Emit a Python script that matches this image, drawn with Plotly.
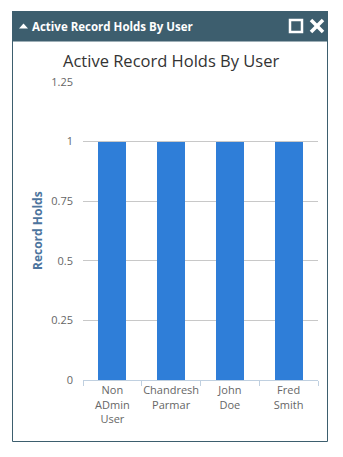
import plotly.graph_objects as go

# Chart data
users = ["Non<br>ADmin<br>User", "Chandresh<br>Parmar", "John<br>Doe", "Fred<br>Smith"]
record_holds = [1, 1, 1, 1]
y_ticks = [0, 0.25, 0.5, 0.75, 1, 1.25]
y_tick_labels = ["0", "0.25", "0.5", "0.75", "1", "1.25"]

W, H = 343, 457
HEADER = "#3d5e6e"


def px(x):
    return x / W


def py(y):
    return 1 - y / H


fig = go.Figure(
    go.Bar(
        x=users,
        y=record_holds,
        marker=dict(color="#2f7ed8", line=dict(width=0)),
        width=0.48,
        hoverinfo="x+y",
    )
)

shapes = [
    # panel body border
    dict(type="rect", xref="paper", yref="paper", x0=px(12.5), x1=px(327.5), y0=py(441.5), y1=py(41),
         line=dict(color=HEADER, width=1), fillcolor="white", layer="below"),
    # header bar
    dict(type="rect", xref="paper", yref="paper", x0=px(12), x1=px(328), y0=py(41), y1=py(11),
         line=dict(width=0), fillcolor=HEADER, layer="below"),
    # collapse caret
    dict(type="path", xref="paper", yref="paper",
         path=f"M {px(19)} {py(28.5)} L {px(28)} {py(28.5)} L {px(23.5)} {py(23.5)} Z",
         fillcolor="white", line=dict(width=0)),
    # maximize box
    dict(type="rect", xref="paper", yref="paper", x0=px(290), x1=px(302), y0=py(32), y1=py(20),
         line=dict(color="white", width=2.5), fillcolor="rgba(0,0,0,0)"),
    # close cross
    dict(type="line", xref="paper", yref="paper", x0=px(311), x1=px(323), y0=py(20), y1=py(32),
         line=dict(color="white", width=3.5)),
    dict(type="line", xref="paper", yref="paper", x0=px(311), x1=px(323), y0=py(32), y1=py(20),
         line=dict(color="white", width=3.5)),
]

annotations = [
    dict(text="<b>Active Record Holds By User</b>", xref="paper", yref="paper",
         x=px(30), y=py(26.5), xanchor="left", yanchor="middle", showarrow=False,
         font=dict(family="Open Sans", size=11.5, color="white")),
    dict(text="Active Record Holds By User", xref="paper", yref="paper",
         x=px(171), y=py(61), xanchor="center", yanchor="middle", showarrow=False,
         font=dict(family="Open Sans", size=16.5, color="#333333")),
    dict(text="<b>Record Holds</b>", xref="paper", yref="paper",
         x=px(37), y=py(231), xanchor="center", yanchor="middle", showarrow=False,
         textangle=-90, font=dict(family="Open Sans", size=12, color="#4d759e")),
]

fig.update_layout(
    width=W,
    height=H,
    margin=dict(l=0, r=0, t=0, b=0),
    paper_bgcolor="white",
    plot_bgcolor="rgba(0,0,0,0)",
    showlegend=False,
    bargap=0,
    shapes=shapes,
    annotations=annotations,
    xaxis=dict(
        domain=[px(83), px(318)],
        type="category",
        automargin=False,
        tickangle=0,
        showline=True,
        linecolor="#c0d0e0",
        linewidth=1,
        ticks="outside",
        tickson="boundaries",
        ticklen=5,
        tickcolor="#c0d0e0",
        tickfont=dict(family="Open Sans", size=11, color="#666666"),
        showgrid=False,
        zeroline=False,
        fixedrange=True,
    ),
    yaxis=dict(
        domain=[py(380), py(82)],
        range=[0, 1.25],
        automargin=False,
        tickvals=y_ticks,
        ticktext=y_tick_labels,
        showgrid=True,
        gridcolor="#c8c8c8",
        gridwidth=1,
        zeroline=False,
        showline=False,
        ticks="",
        ticklabelstandoff=9,
        tickfont=dict(family="Open Sans", size=11, color="#666666"),
        fixedrange=True,
    ),
)

fig.write_html("out.html")
